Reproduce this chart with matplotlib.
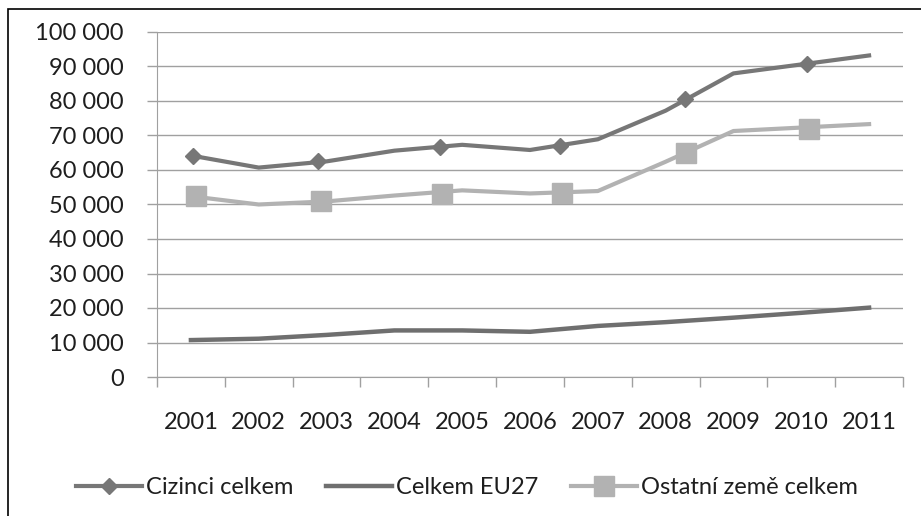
import numpy as np
import matplotlib
matplotlib.use("Agg")
import matplotlib.pyplot as plt
from matplotlib.patches import Rectangle
from matplotlib.ticker import FuncFormatter

# ===================== data =====================
years = ["2001", "2002", "2003", "2004", "2005", "2006", "2007", "2008", "2009", "2010", "2011"]
cizinci = [64200, 60700, 62500, 65600, 67300, 65800, 68900, 77200, 88000, 90600, 93200]
eu27 = [10700, 11100, 12200, 13500, 13500, 13100, 14800, 15900, 17200, 18600, 20100]
ostatni = [52400, 50000, 50900, 52600, 54100, 53200, 53900, 62400, 71300, 72300, 73300]

# markers sit between the categories in the original picture
diamond_pos = [0.03, 1.87, 3.68, 5.44, 7.28, 9.08]
diamond_val = [64200, 62500, 66800, 67000, 80600, 90800]
square_pos = [0.08, 1.92, 3.70, 5.47, 7.30, 9.11]
square_val = [52400, 50900, 52900, 53200, 64800, 71800]

labels = ["Cizinci celkem", "Celkem EU27", "Ostatní země celkem"]

# ===================== style =====================
plt.rcParams["font.family"] = ["Lato", "DejaVu Sans"]
FS = 17
c_dark = "#777777"
c_eu = "#6f6f6f"
c_light = "#b2b2b2"
c_grid = "#a0a0a0"
c_text = "#1e1e1e"

fig = plt.figure(figsize=(9.21, 5.16), dpi=100)
ax = fig.add_axes([157 / 921, 1 - 377 / 516, 746 / 921, 345 / 516])

x = np.arange(len(years))
ax.plot(x, cizinci, color=c_dark, lw=3.0, solid_joinstyle="round", zorder=3)
ax.plot(diamond_pos, diamond_val, ls="none", marker="D", ms=8.5, color=c_dark, zorder=4)
ax.plot(x, eu27, color=c_eu, lw=3.2, solid_joinstyle="round", zorder=3)
ax.plot(x, ostatni, color=c_light, lw=3.0, solid_joinstyle="round", zorder=3)
ax.plot(square_pos, square_val, ls="none", marker="s", ms=15, color=c_light, zorder=4)

ax.set_xlim(-0.5, len(years) - 0.5)
ax.set_ylim(0, 100000)
ax.set_yticks(np.arange(0, 100001, 10000))
ax.yaxis.set_major_formatter(FuncFormatter(lambda v, p: f"{int(v):,}".replace(",", " ")))
ax.grid(axis="y", color=c_grid, lw=1.0)
ax.set_axisbelow(True)

ax.set_xticks(x)
ax.set_xticklabels(years)
ax.set_xticks(np.arange(-0.5, len(years)), minor=True)
ax.tick_params(axis="x", which="major", length=0, pad=25, labelsize=FS, colors=c_text)
ax.tick_params(axis="x", which="minor", length=7, width=1.0, color=c_grid, direction="out")
ax.tick_params(axis="y", length=7, width=1.0, color=c_grid, pad=17, labelsize=FS, labelcolor=c_text)

for s in ["top", "right"]:
    ax.spines[s].set_visible(False)
ax.spines["left"].set_color(c_grid)
ax.spines["bottom"].set_color(c_grid)

# legend
h1, = ax.plot([], [], color=c_dark, lw=3.0, marker="D", ms=8.5)
h2, = ax.plot([], [], color=c_eu, lw=3.2)
h3, = ax.plot([], [], color=c_light, lw=3.0, marker="s", ms=15)
fig.legend([h1, h2, h3], labels, loc="center", bbox_to_anchor=(467 / 921, 1 - 488 / 516),
           ncol=3, frameon=False, fontsize=FS, handlelength=2.8, handletextpad=0.15,
           columnspacing=1.4, labelcolor=c_text)

# outer chart frame (cut off on right and bottom)
fig.patches.append(Rectangle((8 / 921, -0.2), 2.0, 1.2 - 9 / 516, transform=fig.transFigure,
                             fill=False, edgecolor="black", lw=1.2))

fig.savefig("out.png", dpi=100)
